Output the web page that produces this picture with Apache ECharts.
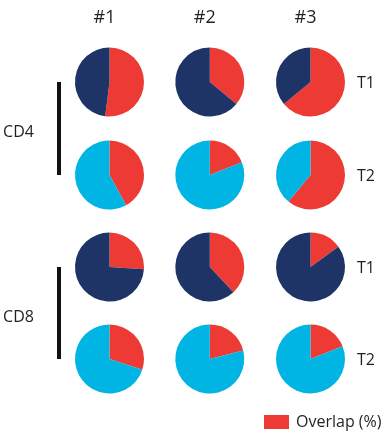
<!DOCTYPE html>
<html>
<head>
<meta charset="utf-8">
<script src="https://cdn.jsdelivr.net/npm/echarts@6/dist/echarts.min.js"></script>
<style>html,body{margin:0;padding:0;background:#fff;}#c{width:385px;height:438px;}</style>
</head>
<body>
<div id="c"></div>
<script>
var donors = ['#1', '#2', '#3'];
var cellTypes = ['CD4', 'CD8'];
var timepoints = ['T1', 'T2'];
var overlapCD4T1 = [52, 36, 64];
var overlapCD4T2 = [42, 19, 61];
var overlapCD8T1 = [26, 38, 15];
var overlapCD8T2 = [30, 21, 19];
var legendName = 'Overlap (%)';

var overlapRows = [overlapCD4T1, overlapCD4T2, overlapCD8T1, overlapCD8T2];
var colX = [109.5, 209.8, 310.5];
var rowY = [82, 175, 267, 359];
var RED = '#EE3A34', NAVY = '#1E3366', CYAN = '#00B4E3';
var FONT = '"Open Sans", "Noto Sans", sans-serif';
var INK = '#231F20';

var series = [];
overlapRows.forEach(function (row, r) {
  var restColor = (r % 2 === 0) ? NAVY : CYAN;
  row.forEach(function (v, c) {
    series.push({
      type: 'pie',
      center: [colX[c], rowY[r]],
      radius: 34.5,
      startAngle: 90,
      clockwise: true,
      silent: true,
      label: { show: false },
      labelLine: { show: false },
      emphasis: { disabled: true },
      itemStyle: { borderWidth: 0 },
      data: [
        { name: legendName, value: v, itemStyle: { color: RED } },
        { name: 'Other', value: 100 - v, itemStyle: { color: restColor } }
      ]
    });
  });
});

var graphics = [];
donors.forEach(function (d, c) {
  graphics.push({ type: 'text', x: colX[c] - 5, y: 17.5, style: { text: d, font: '18px ' + FONT, fill: INK, align: 'center', verticalAlign: 'middle' } });
});
cellTypes.forEach(function (ct, i) {
  var yMid = (rowY[i * 2] + rowY[i * 2 + 1]) / 2;
  graphics.push({ type: 'text', x: 18.5, y: yMid + 4, style: { text: ct, font: '16px ' + FONT, fill: INK, align: 'center', verticalAlign: 'middle' } });
  graphics.push({ type: 'rect', shape: { x: 57, y: rowY[i * 2], width: 4, height: rowY[i * 2 + 1] - rowY[i * 2] }, style: { fill: '#111' } });
});
rowY.forEach(function (y, r) {
  graphics.push({ type: 'text', x: 366, y: y + 1, style: { text: timepoints[r % 2], font: '16px ' + FONT, fill: INK, align: 'center', verticalAlign: 'middle' } });
});

var chart = echarts.init(document.getElementById('c'));
chart.setOption({
  animation: false,
  backgroundColor: '#fff',
  legend: {
    data: [legendName],
    left: 264, top: 414,
    itemWidth: 25, itemHeight: 14, itemGap: 4,
    icon: 'rect',
    selectedMode: false,
    padding: 0,
    textStyle: { fontSize: 16, fontFamily: FONT, color: INK, padding: [0, 0, 0, 2] }
  },
  graphic: graphics,
  series: series
});
</script>
</body>
</html>
